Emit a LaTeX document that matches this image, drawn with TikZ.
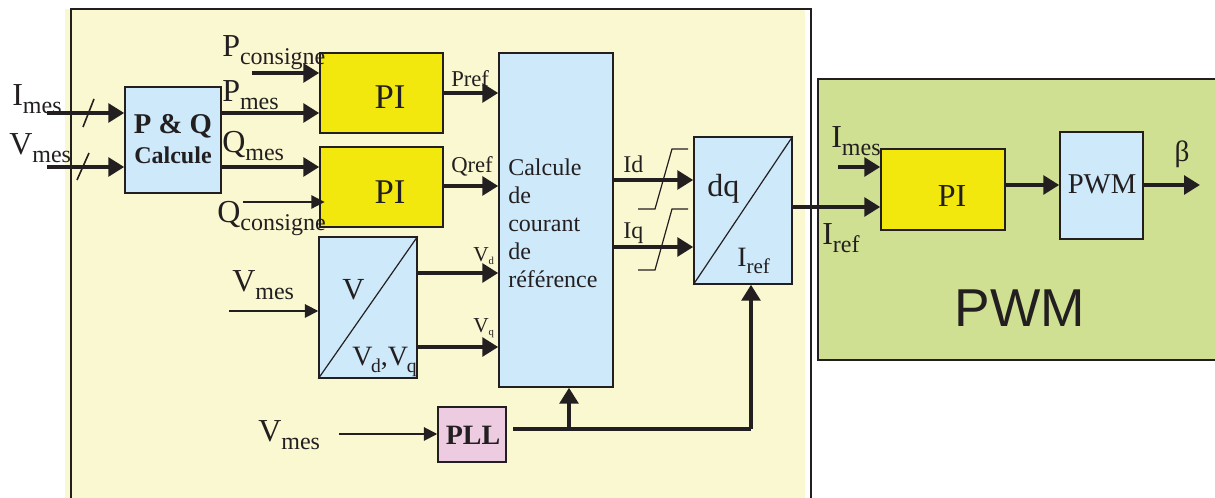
\documentclass[tikz,border=0pt]{standalone}
\usepackage{fontspec}
\setmainfont{Liberation Serif}
\newfontfamily\arialf{Liberation Sans}
\usetikzlibrary{arrows.meta,fit}
\definecolor{bgy}{HTML}{FAF8D0}
\definecolor{bl}{HTML}{CDE9FA}
\definecolor{py}{HTML}{F2E80D}
\definecolor{gr}{HTML}{CFE092}
\definecolor{pk}{HTML}{EDCCE1}
\definecolor{lc}{HTML}{231F20}
\newcommand\lsb[1]{\raisebox{-0.22em}{\scalebox{0.75}{#1}}}
\newcommand\fs[1]{\fontsize{#1}{#1}\selectfont}
\begin{document}
\begin{tikzpicture}[x=0.75pt,y=-0.75pt,
  box/.style={draw=lc, line width=1.1pt, inner sep=0pt},
  bluebox/.style={box, fill=bl},
  pibox/.style={box, fill=py},
  thk/.style={draw=lc, line width=3pt, -{Triangle[length=12pt,width=14pt]}},
  thn/.style={draw=lc, line width=1.4pt, -{Triangle[length=10pt,width=10pt]}},
  lbl/.style={anchor=base west, inner sep=0pt, text=lc, font=\fs{24}},
  slabel/.style={anchor=base west, inner sep=0pt, text=lc, font=\fs{17}},
  ctext/.style={anchor=base west, inner sep=0pt, text=lc, font=\fs{18}},
  thinline/.style={draw=lc, line width=0.9pt}]
\useasboundingbox (0,0) rectangle (1215,498);
% background panels
\fill[bgy] (65,9) rectangle (805,505);
\draw[lc, line width=1.6pt] (71,505) -- (71,9) -- (811,9) -- (811,505);
\node[box, fill=gr, line width=1.3pt, fit={(818,79) (1225,360)}] (pwmarea) {};

% blocks
\node[bluebox, fit={(125,87) (221,193)}] (pq) {};
\node[text=lc, font=\fs{21.5}\bfseries] at (173,126) {P \& Q};
\node[text=lc, font=\fs{18}\bfseries] at (173,155) {Calcule};
\node[pibox, fit={(320,53) (443,133)}] (pi1) {};
\node[text=lc, font=\fs{26}] at (390,97) {PI};
\node[pibox, fit={(320,147) (443,227)}] (pi2) {};
\node[text=lc, font=\fs{26}] at (390,192) {PI};
\node[bluebox, fit={(499,53) (613,387)}] (calc) {};
\node[ctext] at (508,176) {Calcule};
\node[ctext] at (508,204) {de};
\node[ctext] at (508,232) {courant};
\node[ctext] at (508,260) {de};
\node[ctext] at (508,288) {référence};
\node[bluebox, fit={(319,237) (417,378)}] (vbox) {};
\draw[thinline] (vbox.south west) -- (vbox.north east);
\node[anchor=base west, inner sep=0pt, text=lc, font=\fs{23}] at (342,300) {V};
\node[anchor=base west, inner sep=0pt, text=lc, font=\fs{21}] at (352,366) {V\kern-1pt\raisebox{-0.25em}{\scalebox{0.7}{d}},V\kern-1pt\raisebox{-0.25em}{\scalebox{0.7}{q}}};
\node[box, fill=pk, fit={(438,407) (506,462)}] (pll) {};
\node[text=lc, font=\fs{21}\bfseries] at (473,435) {PLL};
\node[bluebox, fit={(694,137) (792,284)}] (dq) {};
\draw[thinline] (dq.south west) -- (dq.north east);
\node[anchor=base west, inner sep=0pt, text=lc, font=\fs{24}] at (707,197) {dq};
\node[anchor=base west, inner sep=0pt, text=lc, font=\fs{21}] at (737,267) {I\lsb{ref}};
\node[pibox, fit={(881,149) (1005,230)}] (gpi) {};
\node[text=lc, font=\fs{24}] at (952,196) {PI};
\node[bluebox, fit={(1060,132) (1143,239)}] (pwm) {};
\node[text=lc, font=\fs{21.5}] at (1102,184) {PWM};
\node[text=lc, font=\arialf\fs{40}] at (1020,308) {PWM};

% labels
\node[lbl] at (12,106) {I\lsb{mes}};
\node[lbl] at (9,155) {V\lsb{mes}};
\node[lbl] at (222,57) {P\lsb{consigne}};
\node[lbl] at (222,102) {P\lsb{mes}};
\node[lbl] at (222,153) {Q\lsb{mes}};
\node[lbl] at (217,223) {Q\lsb{consigne}};
\node[slabel] at (451,87) {Pref};
\node[slabel] at (451,173) {Qref};
\node[anchor=base west, inner sep=0pt, text=lc, font=\fs{16}] at (473,262) {V\raisebox{-0.1em}{\scalebox{0.5}{d}}};
\node[anchor=base west, inner sep=0pt, text=lc, font=\fs{16}] at (473,333) {V\raisebox{-0.1em}{\scalebox{0.5}{q}}};
\node[slabel, font=\fs{18}] at (623,173) {Id};
\node[slabel, font=\fs{18}] at (623,239) {Iq};
\node[lbl] at (232,292) {V\lsb{mes}};
\node[lbl] at (258,442) {V\lsb{mes}};
\node[lbl, font=\fs{24}] at (831,148) {I\lsb{mes}};
\node[lbl, font=\fs{24}] at (822,245) {I\lsb{ref}};
\node[text=lc, font=\fs{22}] (beta) at (1182,154) {β};

% free ends
\coordinate (imes) at (47,113);
\coordinate (vmes) at (47,167);
\coordinate (pcons) at (252,73);
\coordinate (qcons) at (243,202);
\coordinate (vmes2) at (229,311);
\coordinate (vmes3) at (339,434);
\coordinate (gimes) at (838,167);
\coordinate (out) at (1200,185);
\coordinate (pllout) at (513,429);
\coordinate (br1) at (569,429);
\coordinate (br2) at (751,429);

% connectors
\draw[thk] (imes) -- (pq.west |- imes);
\draw[thk] (vmes) -- (pq.west |- vmes);
\draw[thinline, line width=1.2pt] (83,127) -- (94,99);
\draw[thinline, line width=1.2pt] (77,180) -- (89,153);
\draw[thk] (pcons) -- (pi1.west |- pcons);
\draw[thk] (pq.east |- imes) -- (pi1.west |- imes);
\draw[thk] (pq.east |- vmes) -- (pi2.west |- vmes);
\draw[thn] (qcons) -- ([xshift=4pt]pi2.west |- qcons);
\coordinate (prefy) at (0,93);
\coordinate (qrefy) at (0,186);
\draw[thk] (pi1.east |- prefy) -- (calc.west |- prefy);
\draw[thk] (pi2.east |- qrefy) -- (calc.west |- qrefy);
\draw[thn] (vmes2) -- (vbox.west |- vmes2);
\coordinate (vdy) at (0,273);
\coordinate (vqy) at (0,347);
\draw[thk] (vbox.east |- vdy) -- (calc.west |- vdy);
\draw[thk] (vbox.east |- vqy) -- (calc.west |- vqy);
\draw[thn] (vmes3) -- (pll.west |- vmes3);
\draw[draw=lc, line width=3pt] (pllout) -- (br2);
\draw[thk] (br2) -- (br2 |- dq.south);
\draw[thk] (br1) -- (br1 |- calc.south);
\coordinate (idy) at (0,180);
\coordinate (iqy) at (0,247);
\draw[thk] (calc.east |- idy) -- (dq.west |- idy);
\draw[thk] (calc.east |- iqy) -- (dq.west |- iqy);
\draw[thinline] (688,149) -- (672,149) -- (655,209) -- (638,209);
\draw[thinline] (688,209) -- (672,209) -- (655,270) -- (638,270);
\coordinate (dqy) at (0,207);
\draw[thk] (dq.east |- dqy) -- (gpi.west |- dqy);
\draw[thk] (gimes) -- (gpi.west |- gimes);
\coordinate (py1) at (0,185);
\draw[thk] (gpi.east |- py1) -- (pwm.west |- py1);
\draw[thk] (pwm.east |- py1) -- (out);
\end{tikzpicture}
\end{document}
